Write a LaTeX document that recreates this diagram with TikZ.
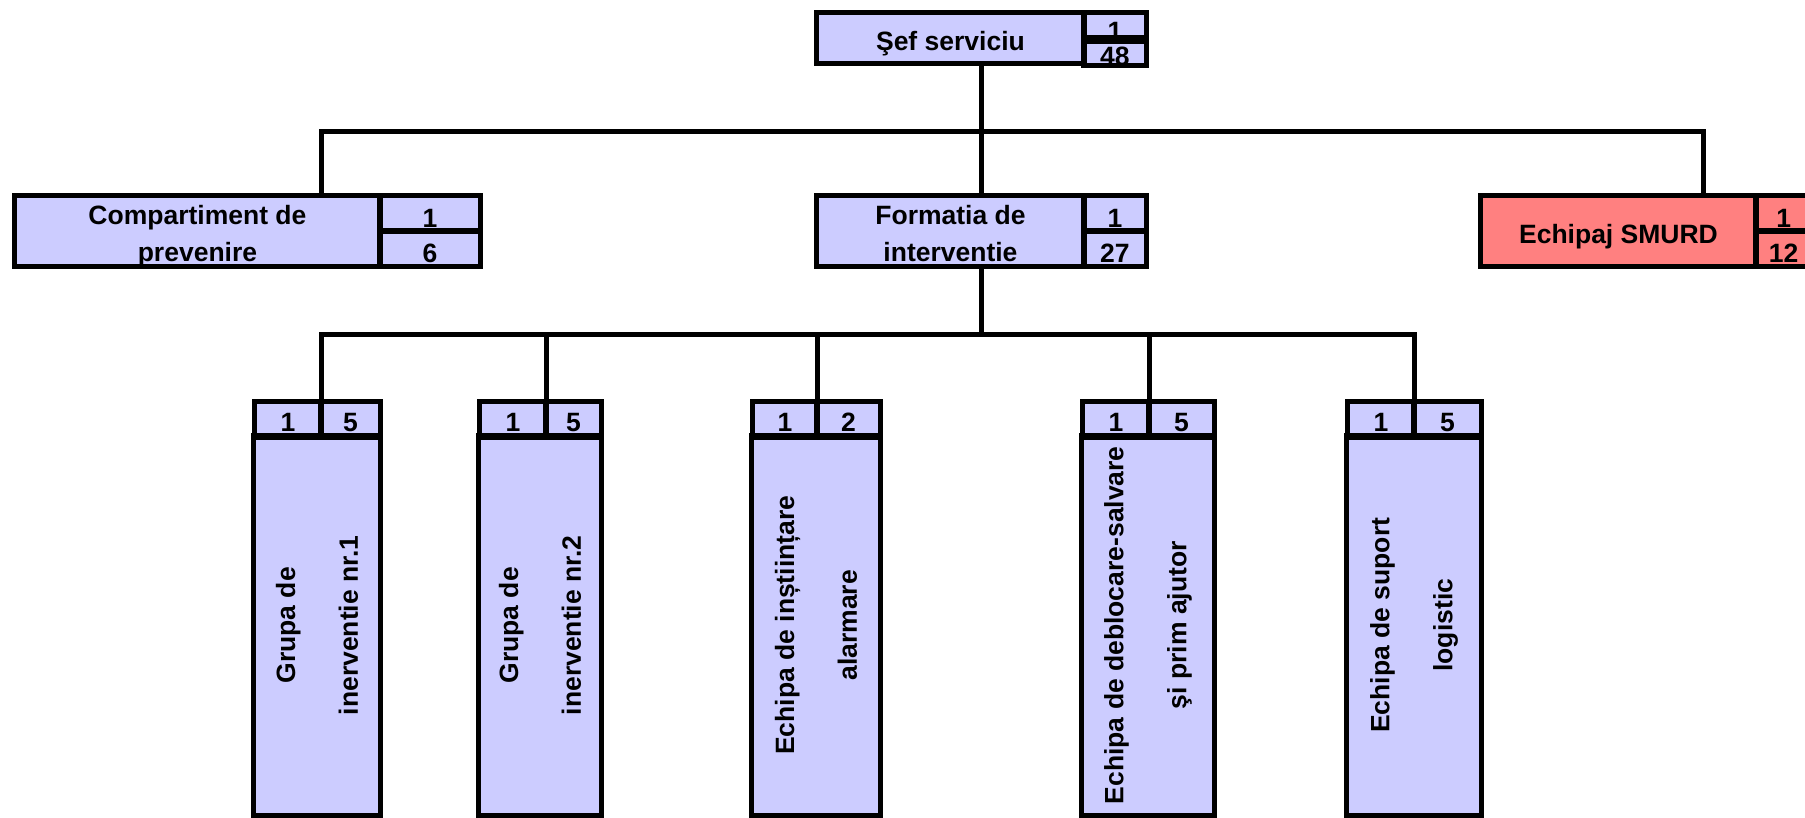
\documentclass[tikz,border=0pt]{standalone}
\usepackage{fontspec}
\setmainfont{Liberation Sans}
\definecolor{boxblue}{RGB}{204,204,255}
\definecolor{smurdred}{RGB}{255,128,128}
\begin{document}
\begin{tikzpicture}[
  cell/.style={fill=boxblue, inner sep=0pt, anchor=north west, align=center,
    font=\fontsize{7.54}{10.5}\selectfont\bfseries},
  num/.style={cell, text height=0.275cm, text depth=0pt},
  head/.style={cell, text height=0.25cm, text depth=0pt, minimum height=0.345cm},
  post/.style={cell, rotate=90, anchor=center, minimum width=3.785cm,
    font=\fontsize{7.54}{17.9}\selectfont\bfseries},
  edge/.style={line width=0.05cm},
]
\useasboundingbox (0,0) rectangle (18.05,-8.17);

% top box
\node[cell, minimum width=2.665cm, minimum height=0.5cm, text height=0.25cm, text depth=0pt] (sef) at (8.165,-0.125) {Şef serviciu};
\node[num, minimum width=0.625cm, minimum height=0.245cm] (sefa) at (10.83,-0.125) {1};
\node[num, minimum width=0.625cm, minimum height=0.255cm] (sefb) at (10.83,-0.37) {48};

% second row
\node[cell, minimum width=3.645cm, minimum height=0.7cm, text height=0.6cm, text depth=0pt] (prv) at (0.145,-1.955) {Compartiment de\\prevenire};
\node[num, minimum width=1.005cm, minimum height=0.345cm] (prva) at (3.79,-1.955) {1};
\node[num, minimum width=1.005cm, minimum height=0.355cm] (prvb) at (3.79,-2.3) {6};

\node[cell, minimum width=2.665cm, minimum height=0.7cm, text height=0.6cm, text depth=0pt] (frm) at (8.165,-1.955) {Formatia de\\interventie};
\node[num, minimum width=0.625cm, minimum height=0.345cm] (frma) at (10.83,-1.955) {1};
\node[num, minimum width=0.625cm, minimum height=0.355cm] (frmb) at (10.83,-2.3) {27};

\node[cell, fill=smurdred, minimum width=2.745cm, minimum height=0.7cm, text height=0.25cm, text depth=0pt] (smd) at (14.805,-1.955) {Echipaj SMURD};
\node[num, fill=smurdred, minimum width=0.56cm, minimum height=0.345cm] (smda) at (17.55,-1.955) {1};
\node[num, fill=smurdred, minimum width=0.56cm, minimum height=0.355cm] (smdb) at (17.55,-2.3) {12};

% bottom row
\node[head, minimum width=0.655cm] (g1a) at (2.545,-4.015) {1};
\node[head, minimum width=0.595cm] (g1b) at (3.2,-4.015) {5};
\node[post, minimum height=1.25cm] (g1) at (3.17,-6.2525) {Grupa de\\inerventie nr.1};

\node[head, minimum width=0.655cm] (g2a) at (4.795,-4.015) {1};
\node[head, minimum width=0.555cm] (g2b) at (5.45,-4.015) {5};
\node[post, minimum height=1.21cm] (g2) at (5.4,-6.2525) {Grupa de\\inerventie nr.2};

\node[head, minimum width=0.635cm] (g3a) at (7.525,-4.015) {1};
\node[head, minimum width=0.635cm] (g3b) at (8.16,-4.015) {2};
\node[post, minimum height=1.27cm] (g3) at (8.16,-6.2525) {Echipa de inștiințare\\alarmare};

\node[head, minimum width=0.655cm] (g4a) at (10.825,-4.015) {1};
\node[head, minimum width=0.655cm] (g4b) at (11.48,-4.015) {5};
\node[post, minimum height=1.31cm] (g4) at (11.48,-6.2525) {Echipa de deblocare-salvare\\şi prim ajutor};

\node[head, minimum width=0.655cm] (g5a) at (13.475,-4.015) {1};
\node[head, minimum width=0.675cm] (g5b) at (14.13,-4.015) {5};
\node[post, minimum height=1.33cm] (g5) at (14.14,-6.2525) {Echipa de suport\\logistic};

% borders over the text
\foreach \n in {sef,sefa,sefb,prv,prva,prvb,frm,frma,frmb,smd,smda,smdb,g1a,g1b,g1,g2a,g2b,g2,g3a,g3b,g3,g4a,g4b,g4,g5a,g5b,g5}
  \draw[edge] (\n.south west) rectangle (\n.north east);

% connectors
\coordinate (bus1) at (9.81,-1.31);
\coordinate (bus2) at (9.81,-3.345);
\coordinate (tapS) at (17.03,-1.31);

\draw[edge] (sef.south -| bus1) -- (frm.north -| bus1);
\draw[edge] (prv.north -| g1a.north east) |- (tapS) -- (smd.north -| tapS);
\draw[edge] (frm.south -| bus2) -- (bus2);
\draw[edge] (g1a.north east) |- (bus2) -| (g5a.north east);
\foreach \g in {g2a,g3a,g4a}
  \draw[edge] (\g.north east) -- (\g.north east |- bus2);
\end{tikzpicture}
\end{document}
